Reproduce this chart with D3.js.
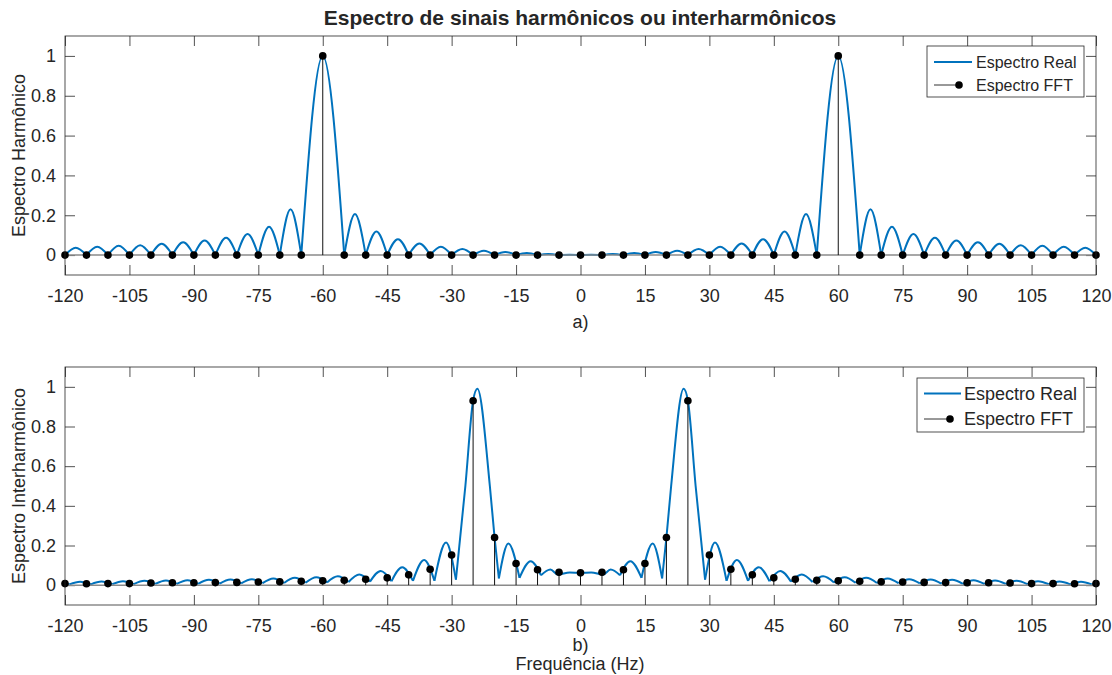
<!DOCTYPE html>
<html><head><meta charset="utf-8">
<script src="https://cdn.jsdelivr.net/npm/d3@7"></script>
<style>
body{margin:0;background:#fff}
text{font-family:"Liberation Sans",Arial,sans-serif;fill:#262626}
</style>
</head><body>
<svg id="c" width="1112" height="675"></svg>
<script>
// ---------- data ----------
const freqBins = [-120,-115,-110,-105,-100,-95,-90,-85,-80,-75,-70,-65,-60,-55,-50,-45,-40,-35,-30,-25,-20,-15,-10,-5,0,5,10,15,20,25,30,35,40,45,50,55,60,65,70,75,80,85,90,95,100,105,110,115,120];
const xTicks = [-120,-105,-90,-75,-60,-45,-30,-15,0,15,30,45,60,75,90,105,120];
const yTicks = [0,0.2,0.4,0.6,0.8,1];

// FFT samples (stems)
const fftHarm = [0,0,0,0,0,0,0,0,0,0,0,0,1,0,0,0,0,0,0,0,0,0,0,0,0,0,0,0,0,0,0,0,0,0,0,0,1,0,0,0,0,0,0,0,0,0,0,0,0];
const fftInter = [0.008,0.007,0.008,0.008,0.011,0.012,0.012,0.013,0.014,0.016,0.017,0.02,0.022,0.025,0.03,0.037,0.052,0.08,0.152,0.93,0.24,0.109,0.078,0.065,
  0.062,
  0.065,0.078,0.109,0.24,0.93,0.152,0.08,0.052,0.037,0.03,0.025,0.022,0.02,0.017,0.016,0.014,0.013,0.012,0.012,0.011,0.008,0.008,0.007,0.008];

// Real spectrum (a): zero crossings and the height of each lobe between them
const realHarmZeros = [-120,-115,-110,-105,-100,-95,-90,-85,-80,-75,-70,-65,-55,-50,-45,-40,-35,-30,-25,-20,-15,-10,-5,0,5,10,15,20,25,30,35,40,45,50,55,65,70,75,80,85,90,95,100,105,110,115,120];
const realHarmPeaks = [0.037,0.042,0.047,0.05,0.057,0.064,0.073,0.087,0.106,0.142,0.23,1,0.206,0.118,0.08,0.058,0.042,0.03,0.022,0.016,0.011,0.006,0.002,
  0.002,0.006,0.011,0.016,0.022,0.03,0.042,0.058,0.08,0.118,0.206,1,0.23,0.142,0.106,0.087,0.073,0.064,0.057,0.05,0.047,0.042,0.037];

// Real spectrum (b): knots [Hz, value, sharp dip]
const realInterKnots = [
  [-120,0.009,0],
  [-119,0.004,1],[-116.5,0.017,0],[-114,0.004,1],[-111.5,0.018,0],[-109,0.005,1],[-106.5,0.020,0],
  [-104,0.005,1],[-101.5,0.022,0],[-99,0.006,1],[-96.5,0.024,0],[-94,0.006,1],[-91.5,0.025,0],
  [-89,0.007,1],[-86.5,0.027,0],[-84,0.008,1],[-81.5,0.029,0],[-79,0.009,1],[-76.5,0.030,0],
  [-74,0.010,1],[-71.5,0.034,0],[-69,0.011,1],[-66.5,0.037,0],[-64,0.012,1],[-61.5,0.040,0],
  [-59,0.014,1],[-56.5,0.045,0],[-54,0.016,1],[-51.5,0.054,0],[-49,0.018,1],[-46.5,0.072,0],
  [-44,0.020,1],[-41.5,0.090,0],[-39,0.022,1],[-36.4,0.127,0],[-34,0.022,1],[-31.3,0.215,0],
  [-29,0.028,1],[-26.8,0.5,0],[-25,0.93,0],[-24,0.99,0],[-21.1,0.5,0],[-20,0.24,0],
  [-19,0.034,1],[-16.8,0.21,0],[-14.2,0.037,1],[-11.6,0.121,0],[-9.2,0.05,1],[-7,0.079,0],[-5.3,0.054,0],[-2.5,0.064,0],
  [0,0.062,0],
  [2.5,0.064,0],[5.3,0.054,0],[7,0.079,0],[9.2,0.05,1],[11.6,0.121,0],[14.2,0.037,1],[16.8,0.21,0],
  [19,0.034,1],[20,0.24,0],[21.1,0.5,0],[24,0.99,0],[25,0.93,0],[26.8,0.5,0],[29,0.028,1],
  [31.3,0.215,0],[34,0.022,1],[36.4,0.127,0],[39,0.022,1],[41.5,0.090,0],[44,0.020,1],
  [46.5,0.072,0],[49,0.018,1],[51.5,0.054,0],[54,0.016,1],[56.5,0.045,0],[59,0.014,1],
  [61.5,0.040,0],[64,0.012,1],[66.5,0.037,0],[69,0.011,1],[71.5,0.034,0],[74,0.010,1],
  [76.5,0.030,0],[79,0.009,1],[81.5,0.029,0],[84,0.008,1],[86.5,0.027,0],[89,0.007,1],
  [91.5,0.025,0],[94,0.006,1],[96.5,0.024,0],[99,0.006,1],[101.5,0.022,0],[104,0.005,1],
  [106.5,0.020,0],[109,0.005,1],[111.5,0.018,0],[114,0.004,1],[116.5,0.017,0],[119,0.004,1],
  [120,0.009,0]
];

const title = "Espectro de sinais harmônicos ou interharmônicos";
const yLabels = ["Espectro Harmônico","Espectro Interharmônico"];
const subLabels = ["a)","b)"];
const xLabel = "Frequência (Hz)";
const legendNames = ["Espectro Real","Espectro FFT"];

// ---------- drawing ----------
const svg = d3.select("#c");
const BLUE = "#0072BD", AX = "#262626";
const x = d3.scaleLinear().domain([-120,120]).range([65,1096]);

function lobesFromZeros(zeros, peaks){
  const segs=[];
  for(let i=0;i<peaks.length;i++){
    const a=zeros[i], b=zeros[i+1];
    segs.push([[a,0],[(a+b)/2,peaks[i]],[b,0]]);
  }
  return segs;
}
function segsFromKnots(knots){
  const segs=[]; let cur=[knots[0]];
  for(let i=1;i<knots.length;i++){
    cur.push(knots[i]);
    if(knots[i][2]===1){ segs.push(cur); cur=[knots[i]]; }
  }
  if(cur.length>1) segs.push(cur);
  return segs;
}

function panel(cfg){
  const y = d3.scaleLinear().domain([-0.1,1.1]).range([cfg.bottom,cfg.top]);
  const g = svg.append("g");
  const x0=x.range()[0], x1=x.range()[1];

  // ticks (inward) on all four sides
  const fmt = d=>String(d);
  g.append("g").attr("transform",`translate(0,${cfg.bottom})`)
    .call(d3.axisBottom(x).tickValues(xTicks).tickSizeInner(-10).tickSizeOuter(0).tickPadding(14).tickFormat(fmt))
    .call(a=>{a.select(".domain").remove();a.selectAll("line").attr("stroke",AX).attr("stroke-width",0.8);
      a.selectAll("text").attr("font-size",18).attr("fill",AX).style("font-family","'Liberation Sans',Arial,sans-serif");});
  g.append("g").attr("transform",`translate(0,${cfg.top})`)
    .call(d3.axisTop(x).tickValues(xTicks).tickSizeInner(-10).tickSizeOuter(0).tickFormat(""))
    .call(a=>{a.select(".domain").remove();a.selectAll("line").attr("stroke",AX).attr("stroke-width",0.8);});
  g.append("g").attr("transform",`translate(${x0},0)`)
    .call(d3.axisLeft(y).tickValues(yTicks).tickSizeInner(-10).tickSizeOuter(0).tickPadding(9).tickFormat(fmt))
    .call(a=>{a.select(".domain").remove();a.selectAll("line").attr("stroke",AX).attr("stroke-width",0.8);
      a.selectAll("text").attr("font-size",18).attr("fill",AX).style("font-family","'Liberation Sans',Arial,sans-serif");});
  g.append("g").attr("transform",`translate(${x1},0)`)
    .call(d3.axisRight(y).tickValues(yTicks).tickSizeInner(-10).tickSizeOuter(0).tickFormat(""))
    .call(a=>{a.select(".domain").remove();a.selectAll("line").attr("stroke",AX).attr("stroke-width",0.8);});

  // real spectrum
  const line = d3.line().x(d=>x(d[0])).y(d=>y(d[1])).curve(d3.curveMonotoneX);
  g.append("g").selectAll("path").data(cfg.segs).join("path")
    .attr("d",line).attr("fill","none").attr("stroke",BLUE).attr("stroke-width",2)
    .attr("stroke-linejoin","round");

  // stem baseline
  g.append("line").attr("x1",x0).attr("x2",x1).attr("y1",y(0)).attr("y2",y(0))
    .attr("stroke","#8a8a8a").attr("stroke-width",1.5);

  // stems
  const fft = freqBins.map((f,i)=>[f,cfg.fft[i]]);
  g.append("g").selectAll("line").data(fft).join("line")
    .attr("x1",d=>x(d[0])).attr("x2",d=>x(d[0])).attr("y1",y(0)).attr("y2",d=>y(d[1]))
    .attr("stroke","#111").attr("stroke-width",1);
  g.append("g").selectAll("circle").data(fft).join("circle")
    .attr("cx",d=>x(d[0])).attr("cy",d=>y(d[1])).attr("r",3.8).attr("fill","#000");

  // box
  g.append("rect").attr("x",x0).attr("y",cfg.top).attr("width",x1-x0).attr("height",cfg.bottom-cfg.top)
    .attr("fill","none").attr("stroke",AX).attr("stroke-width",0.8);

  // y label
  g.append("text").attr("transform",`translate(25,${(cfg.top+cfg.bottom)/2}) rotate(-90)`)
    .attr("text-anchor","middle").attr("font-size",18).text(cfg.ylabel);
  // sub label
  g.append("text").attr("x",(x0+x1)/2).attr("y",cfg.subY).attr("text-anchor","middle")
    .attr("font-size",18).text(cfg.sub);

  // legend
  const L = cfg.legend;
  const lg = g.append("g");
  lg.append("rect").attr("x",L.x).attr("y",L.y).attr("width",L.w).attr("height",L.h)
    .attr("fill","#fff").attr("stroke",AX).attr("stroke-width",0.8);
  lg.append("line").attr("x1",L.lx0).attr("x2",L.lx1).attr("y1",L.y1).attr("y2",L.y1)
    .attr("stroke",BLUE).attr("stroke-width",2);
  lg.append("line").attr("x1",L.lx0).attr("x2",L.mx).attr("y1",L.y2).attr("y2",L.y2)
    .attr("stroke","#333").attr("stroke-width",1);
  lg.append("circle").attr("cx",L.mx).attr("cy",L.y2).attr("r",3.8).attr("fill","#000");
  lg.append("text").attr("x",L.tx).attr("y",L.y1).attr("dy","0.35em").attr("font-size",L.fs).text(legendNames[0]);
  lg.append("text").attr("x",L.tx).attr("y",L.y2).attr("dy","0.35em").attr("font-size",L.fs).text(legendNames[1]);
}

svg.append("text").attr("x",580).attr("y",25).attr("text-anchor","middle")
  .attr("font-size",21).attr("font-weight","bold").text(title);

panel({top:36,bottom:275,fft:fftHarm,segs:lobesFromZeros(realHarmZeros,realHarmPeaks),
  ylabel:yLabels[0],sub:subLabels[0],subY:328,
  legend:{x:927,y:46,w:157,h:51,lx0:934,lx1:972,mx:959,y1:62,y2:85,tx:976,fs:16}});
panel({top:367,bottom:605,fft:fftInter,segs:segsFromKnots(realInterKnots),
  ylabel:yLabels[1],sub:subLabels[1],subY:651,
  legend:{x:917,y:378,w:167,h:54,lx0:924,lx1:961,mx:950,y1:393.5,y2:419,tx:964,fs:18}});

svg.append("text").attr("x",580).attr("y",670).attr("text-anchor","middle")
  .attr("font-size",18).text(xLabel);
</script>
</body></html>
